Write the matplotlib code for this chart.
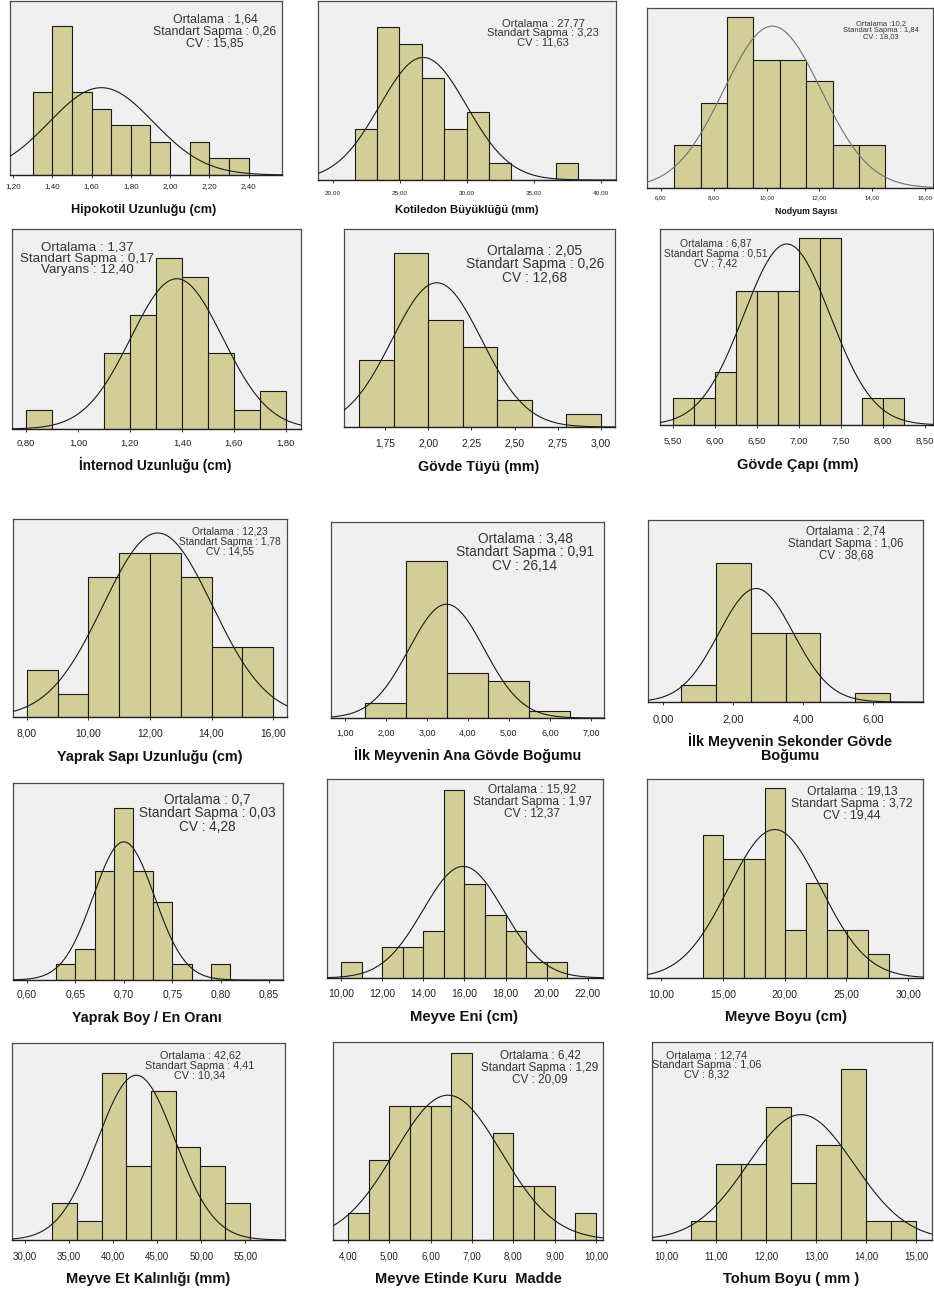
import numpy as np
import matplotlib.pyplot as plt
from matplotlib.ticker import FuncFormatter

plt.rcParams['font.family'] = ['Liberation Sans', 'DejaVu Sans']

W, H = 934, 1293

# --- data -------------------------------------------------------------
xlabels = ["Hipokotil Uzunluğu (cm)", "Kotiledon Büyüklüğü (mm)", "Nodyum Sayısı",
           "İnternod Uzunluğu (cm)", "Gövde Tüyü (mm)", "Gövde Çapı (mm)",
           "Yaprak Sapı Uzunluğu (cm)", "İlk Meyvenin Ana Gövde Boğumu",
           "İlk Meyvenin Sekonder Gövde\nBoğumu",
           "Yaprak Boy / En Oranı", "Meyve Eni (cm)", "Meyve Boyu (cm)",
           "Meyve Et Kalınlığı (mm)", "Meyve Etinde Kuru  Madde", "Tohum Boyu ( mm )"]

bin_start = [1.30, 21.62, 6.5, 0.80, 1.60, 5.50, 8.0, 1.5, 0.5, 0.63, 10.0, 13.37, 33.1, 4.0, 10.5]
bin_width = [0.10, 1.668, 1.0, 0.10, 0.20, 0.25, 1.0, 1.0, 1.0, 0.02, 1.0, 1.673, 2.8, 0.5, 0.5]
counts = [
    [5, 9, 5, 4, 3, 3, 2, 0, 2, 1, 1],
    [3, 9, 8, 6, 3, 4, 1, 0, 0, 1],
    [2, 4, 8, 6, 6, 5, 2, 2],
    [1, 0, 0, 4, 6, 9, 8, 4, 1, 2],
    [5, 13, 8, 6, 2, 0, 1],
    [1, 1, 2, 5, 5, 5, 7, 7, 0, 1, 1],
    [2, 1, 6, 7, 7, 6, 3, 3],
    [2, 21, 6, 5, 1],
    [2, 16, 8, 8, 0, 1],
    [1, 2, 7, 11, 7, 5, 1, 0, 1],
    [1, 0, 2, 2, 3, 12, 6, 4, 3, 1, 1],
    [6, 5, 5, 8, 2, 4, 2, 2, 1],
    [2, 1, 9, 4, 8, 5, 4, 2],
    [1, 3, 5, 5, 5, 7, 0, 4, 2, 2, 0, 1],
    [1, 4, 4, 7, 3, 5, 9, 1, 1],
]

# normal curve parameters
fit_mean = [1.65, 26.72, 10.22, 1.38, 2.05, 6.86, 12.25, 3.48, 2.66, 0.70, 15.94, 19.2, 42.62, 6.42, 12.70]
fit_sd = [0.265, 3.24, 1.84, 0.177, 0.259, 0.515, 1.776, 0.918, 1.066, 0.0316, 1.96, 3.74, 4.41, 1.29, 1.06]

mean_txt = ["Ortalama : 1,64", "Ortalama : 27,77", "Ortalama :10,2", "Ortalama : 1,37",
            "Ortalama : 2,05", "Ortalama : 6,87", "Ortalama : 12,23", "Ortalama : 3,48",
            "Ortalama : 2,74", "Ortalama : 0,7", "Ortalama : 15,92", "Ortalama : 19,13",
            "Ortalama : 42,62", "Ortalama : 6,42", "Ortalama : 12,74"]
sd_txt = ["0,26", "3,23", "1,84", "0,17", "0,26", "0,51", "1,78", "0,91",
          "1,06", "0,03", "1,97", "3,72", "4,41", "1,29", "1,06"]
third_txt = ["CV : 15,85", "CV : 11,63", "CV : 18,03", "Varyans : 12,40", "CV : 12,68",
             "CV : 7,42", "CV : 14,55", "CV : 26,14", "CV : 38,68", "CV : 4,28",
             "CV : 12,37", "CV : 19,44", "CV : 10,34", "CV : 20,09", "CV : 8,32"]

# --- layout (pixels) --------------------------------------------------
frames = [(10, 282, 1, 175), (318, 616, 1, 180), (647, 933, 8, 188),
          (12, 301, 229, 429), (344, 615, 229, 427), (660, 933, 229, 425),
          (13, 287, 519, 717), (331, 604, 522, 718), (648, 923, 520, 702),
          (13, 283, 783, 980), (327, 603, 779, 978), (647, 923, 779, 978),
          (12, 285, 1043, 1240), (333, 603, 1042, 1240), (652, 932, 1042, 1240)]
xlims = [(1.185, 2.57), (18.88, 41.1), (5.47, 16.3),
         (0.746, 1.858), (1.513, 3.081), (5.35, 8.6),
         (7.545, 16.455), (0.66, 7.32), (-0.43, 7.43),
         (0.5855, 0.8645), (9.32, 22.73), (8.87, 31.2),
         (28.52, 59.5), (3.64, 10.17), (9.72, 15.32)]
ytops = [10.5, 10.5, 8.44, 10.5, 14.8, 7.34, 8.46, 26.2, 21.0, 12.6, 12.7, 8.37, 10.6, 7.4, 10.4]
tick_range = [(1.2, 2.4, 0.2), (20, 40, 5), (6, 16, 2),
              (0.8, 1.8, 0.2), (1.75, 3.0, 0.25), (5.5, 8.5, 0.5),
              (8, 16, 2), (1, 7, 1), (0, 6, 2),
              (0.6, 0.85, 0.05), (10, 22, 2), (10, 30, 5),
              (30, 55, 5), (4, 10, 1), (10, 15, 1)]
tick_y = [186, 193, 197, 442, 442, 440, 732, 732, 718, 993, 992, 993, 1255, 1255, 1255]
tick_fs = [5.8, 4.6, 4.3, 6.8, 7.4, 6.8, 7.4, 6.5, 8.0, 7.4, 7.5, 7.5, 7.0, 7.0, 7.0]

stat_pos = [(215, 14), (543, 18), (881, 20), (87, 241), (535, 244), (716, 239),
            (230, 527), (525, 532), (846, 526), (207, 793), (532, 784), (852, 786),
            (200, 1051), (540, 1050), (707, 1050)]
stat_fs = [8.8, 8.0, 5.4, 9.6, 9.9, 7.5, 7.3, 9.9, 8.3, 9.8, 8.6, 8.7, 7.8, 8.5, 7.8]

xlabel_pos = [(144, 210), (467, 210), (806, 211), (155, 465), (479, 467), (798, 465),
              (150, 757), (468, 755), (790, 748), (147, 1018), (464, 1017), (786, 1017),
              (148, 1279), (468, 1279), (791, 1279)]
xlabel_fs = [9.1, 8.1, 6.2, 9.8, 10.3, 10.5, 10.4, 10.4, 10.4, 10.3, 10.7, 10.7, 10.5, 10.5, 10.5]

BAR = '#d3ce97'
BG = '#f0f0f0'

fig = plt.figure(figsize=(W / 100, H / 100), dpi=100)


def comma(v, pos):
    return f"{v:.2f}".replace('.', ',')


for i in range(15):
    l, r, t, b = frames[i]
    ax = fig.add_axes([l / W, 1 - b / H, (r - l) / W, (b - t) / H])
    ax.set_facecolor(BG)

    n = np.array(counts[i])
    w = bin_width[i]
    edges = bin_start[i] + w * np.arange(len(n))
    ax.bar(edges, n, width=w, align='edge', color=BAR,
           edgecolor='#1a1a1a', linewidth=0.8, zorder=2)

    x0, x1 = xlims[i]
    xs = np.linspace(x0, x1, 400)
    pdf = np.exp(-0.5 * ((xs - fit_mean[i]) / fit_sd[i]) ** 2) / (fit_sd[i] * np.sqrt(2 * np.pi))
    curve_col = '#707070' if i == 2 else '#1a1a1a'
    ax.plot(xs, n.sum() * w * pdf, color=curve_col, lw=0.8, zorder=3)

    ax.set_xlim(x0, x1)
    ax.set_ylim(0, ytops[i])
    ax.set_yticks([])
    lo, hi, st = tick_range[i]
    ax.set_xticks(np.arange(lo, hi + st / 2, st))
    ax.xaxis.set_major_formatter(FuncFormatter(comma))

    fs = tick_fs[i]
    tick_len = 3
    pad_px = (tick_y[i] - b) - tick_len - 0.36 * fs * 100 / 72
    ax.tick_params(axis='x', labelsize=fs, length=tick_len * 0.72, width=0.7,
                   pad=pad_px * 0.72, colors='#333333', labelcolor='#222222')
    for side in ['left', 'top', 'right']:
        ax.spines[side].set_color('#4a4a4a')
        ax.spines[side].set_linewidth(0.9)
    ax.spines['bottom'].set_color('#202020')
    ax.spines['bottom'].set_linewidth(1.0)

    cx, ty = stat_pos[i]
    stats = f"{mean_txt[i]}\nStandart Sapma : {sd_txt[i]}\n{third_txt[i]}"
    fig.text(cx / W, 1 - ty / H, stats, ha='center', va='top', fontsize=stat_fs[i],
             linespacing=0.95, color='#333333')

    lx, ly = xlabel_pos[i]
    fig.text(lx / W, 1 - ly / H, xlabels[i], ha='center', va='center',
             fontsize=xlabel_fs[i], fontweight='bold', color='#111111',
             linespacing=0.95)

fig.savefig('out.png', dpi=100, facecolor='white')
